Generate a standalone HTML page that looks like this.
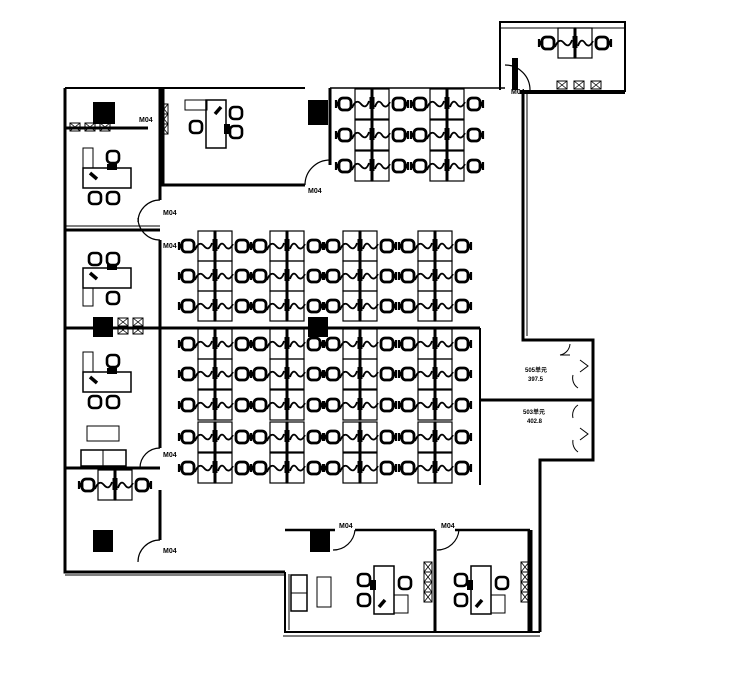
<!DOCTYPE html>
<html><head><style>
html,body{margin:0;padding:0;background:#fff;width:742px;height:691px;overflow:hidden}
text{font-family:"Liberation Sans","Noto Sans CJK SC",sans-serif;font-weight:bold;fill:#000}
</style></head><body>
<svg width="742" height="691" viewBox="0 0 742 691" xmlns="http://www.w3.org/2000/svg">
<defs>
<g id="ch">
<rect x="-6" y="-6" width="12" height="12" rx="4" fill="none" stroke="#000" stroke-width="2.8"/>
<line x1="-9" y1="-4" x2="-9" y2="4" stroke="#000" stroke-width="2.2"/>
</g>
<g id="row">
<rect x="-17" y="-15" width="17" height="30" fill="none" stroke="#000" stroke-width="1.2"/>
<rect x="0" y="-15" width="17" height="30" fill="none" stroke="#000" stroke-width="1.2"/>
<rect x="-2.5" y="-7" width="5" height="12" fill="#000"/>
<line x1="0" y1="-15" x2="0" y2="15" stroke="#000" stroke-width="3"/>
<path d="M-20 4 Q-16 -6 -11 0 Q-6 6 -3 -3" fill="none" stroke="#000" stroke-width="1.8"/>
<path d="M3 3 Q6 -6 10 0 Q14 6 18 -2" fill="none" stroke="#000" stroke-width="1.8"/>
<use href="#ch" x="-27"/>
<g transform="translate(27,0) scale(-1,1)"><use href="#ch"/></g>
<path d="M-37 0 l3 -3 v6z M37 0 l-3 -3 v6z" fill="#000"/>
</g>
<g id="xx">
<rect x="0" y="0" width="10" height="8" fill="none" stroke="#000"/>
<path d="M0 0 L10 8 M10 0 L0 8" stroke="#000" stroke-width="0.8"/>
</g>
<g id="arm"><rect x="-6" y="-6" width="12" height="12" rx="4" fill="none" stroke="#000" stroke-width="2.6"/></g>
<g id="desk">
<rect x="0" y="0" width="48" height="20" fill="none" stroke="#000" stroke-width="1.5"/>
<path d="M7 5 l7 6" stroke="#000" stroke-width="3.5"/>
<rect x="24" y="-4" width="10" height="6" fill="#000"/>
</g>
</defs>

<g stroke="#000" fill="none">
<path d="M65 88 V572 H285" stroke-width="3"/>
<path d="M65 88 H305" stroke-width="2"/>
<path d="M330 88 H505" stroke-width="1.5"/>
<path d="M500 90 V22 H625 V92" stroke-width="2"/>
<path d="M500 28 H625" stroke-width="1"/>
<path d="M520 92 H625" stroke-width="4"/>
<path d="M523 93 V340 H593 V460 H540 V632" stroke-width="3"/>
<path d="M527 93 V336" stroke-width="1"/>
<path d="M285 572 V632 H540" stroke-width="2"/>
<path d="M289 574 V630" stroke-width="1"/>
<path d="M283 636 H540" stroke-width="1"/>
<path d="M65 575 H285" stroke-width="1"/>
<path d="M160 88 V200 M160 240 V448 M160 490 V540" stroke-width="3"/>
<path d="M65 230 H160" stroke-width="3"/>
<path d="M65 226 H160" stroke-width="1"/>
<path d="M65 328 H480" stroke-width="3"/>
<path d="M65 468 H160" stroke-width="3"/>
<path d="M163 88 V185 H305" stroke-width="3"/>
<path d="M330 88 V165" stroke-width="3"/>
<path d="M480 328 V485" stroke-width="2"/>
<path d="M480 400 H593" stroke-width="3"/>
<path d="M285 530 H335 M355 530 H435 M455 530 H530" stroke-width="2.5"/>
<path d="M435 530 V632" stroke-width="3"/>
<path d="M530 530 V632" stroke-width="5"/>
<path d="M65 128 H148" stroke-width="3"/>
<path d="M330 160 A25 25 0 0 0 305 185" stroke-width="1.2"/>
<path d="M160 200 A22 22 0 0 0 138 222" stroke-width="1.2"/>
<path d="M160 240 A22 22 0 0 1 138 218" stroke-width="1.2"/>
<path d="M160 448 A20 20 0 0 0 140 468" stroke-width="1.2"/>
<path d="M160 540 A22 22 0 0 0 138 562" stroke-width="1.2"/>
<path d="M333 550 A22 22 0 0 0 355 530" stroke-width="1.2"/>
<path d="M437 550 A22 22 0 0 0 459 530" stroke-width="1.2"/>
<path d="M505 65 A25 25 0 0 1 530 90" stroke-width="1.2"/>
<path d="M560 355 h10 M570 344 A12 12 0 0 1 560 355" stroke-width="1"/>
<path d="M573 375 A12 12 0 0 0 578 388 M573 418 A12 12 0 0 1 578 405 M573 440 A12 12 0 0 0 578 452" stroke-width="1"/>
<path d="M580 360 l8 6 l-8 6 M580 428 l8 6 l-8 6" stroke-width="1"/>
</g>

<g fill="#000">
<rect x="93" y="102" width="22" height="22"/>
<rect x="308" y="100" width="20" height="25"/>
<rect x="93" y="317" width="20" height="20"/>
<rect x="308" y="317" width="20" height="20"/>
<rect x="93" y="530" width="20" height="22"/>
<rect x="310" y="530" width="20" height="22"/>
<rect x="512" y="58" width="6" height="32"/>
</g>

<use href="#xx" x="70" y="123"/><use href="#xx" x="85" y="123"/><use href="#xx" x="100" y="123"/>
<use href="#xx" x="118" y="318"/><use href="#xx" x="133" y="318"/><use href="#xx" x="118" y="326"/><use href="#xx" x="133" y="326"/>
<use href="#xx" x="557" y="81"/><use href="#xx" x="574" y="81"/><use href="#xx" x="591" y="81"/>
<g transform="translate(168,104) rotate(90)"><use href="#xx" x="0" y="0"/><use href="#xx" x="10" y="0"/><use href="#xx" x="20" y="0"/></g>
<g transform="translate(432,562) rotate(90)"><use href="#xx" x="0"/><use href="#xx" x="10"/><use href="#xx" x="20"/><use href="#xx" x="30"/></g>
<g transform="translate(529,562) rotate(90)"><use href="#xx" x="0"/><use href="#xx" x="10"/><use href="#xx" x="20"/><use href="#xx" x="30"/></g>

<g>
<use href="#desk" x="83" y="168"/><rect x="83" y="148" width="10" height="20" fill="none" stroke="#000"/>
<use href="#arm" x="113" y="157"/><use href="#arm" x="95" y="198"/><use href="#arm" x="113" y="198"/>
<use href="#desk" x="83" y="268"/><rect x="83" y="288" width="10" height="18" fill="none" stroke="#000"/>
<use href="#arm" x="113" y="298"/><use href="#arm" x="95" y="259"/><use href="#arm" x="113" y="259"/>
<use href="#desk" x="83" y="372"/><rect x="83" y="352" width="10" height="20" fill="none" stroke="#000"/>
<use href="#arm" x="113" y="361"/><use href="#arm" x="95" y="402"/><use href="#arm" x="113" y="402"/>
<rect x="87" y="426" width="32" height="15" fill="none" stroke="#000"/>
<rect x="81" y="450" width="45" height="16" fill="none" stroke="#000" stroke-width="1.5"/>
<line x1="103" y1="450" x2="103" y2="466" stroke="#000"/>
<g transform="translate(226,100) rotate(90)"><use href="#desk"/></g>
<rect x="185" y="100" width="22" height="10" fill="none" stroke="#000"/>
<use href="#arm" x="196" y="127"/><use href="#arm" x="236" y="113"/><use href="#arm" x="236" y="132"/>
<g transform="translate(374,614) rotate(-90)"><use href="#desk"/></g>
<rect x="394" y="595" width="14" height="18" fill="none" stroke="#000"/>
<use href="#arm" x="364" y="580"/><use href="#arm" x="364" y="600"/><use href="#arm" x="405" y="583"/>
<g transform="translate(471,614) rotate(-90)"><use href="#desk"/></g>
<rect x="491" y="595" width="14" height="18" fill="none" stroke="#000"/>
<use href="#arm" x="461" y="580"/><use href="#arm" x="461" y="600"/><use href="#arm" x="502" y="583"/>
<rect x="317" y="577" width="14" height="30" fill="none" stroke="#000"/>
<rect x="291" y="575" width="16" height="36" fill="none" stroke="#000" stroke-width="1.5"/>
<line x1="291" y1="593" x2="307" y2="593" stroke="#000"/>
</g>

<g>
<use href="#row" x="215" y="246"/><use href="#row" x="287" y="246"/><use href="#row" x="360" y="246"/><use href="#row" x="435" y="246"/>
<use href="#row" x="215" y="276"/><use href="#row" x="287" y="276"/><use href="#row" x="360" y="276"/><use href="#row" x="435" y="276"/>
<use href="#row" x="215" y="306"/><use href="#row" x="287" y="306"/><use href="#row" x="360" y="306"/><use href="#row" x="435" y="306"/>
<use href="#row" x="215" y="344"/><use href="#row" x="287" y="344"/><use href="#row" x="360" y="344"/><use href="#row" x="435" y="344"/>
<use href="#row" x="215" y="374"/><use href="#row" x="287" y="374"/><use href="#row" x="360" y="374"/><use href="#row" x="435" y="374"/>
<use href="#row" x="215" y="405"/><use href="#row" x="287" y="405"/><use href="#row" x="360" y="405"/><use href="#row" x="435" y="405"/>
<use href="#row" x="215" y="437"/><use href="#row" x="287" y="437"/><use href="#row" x="360" y="437"/><use href="#row" x="435" y="437"/>
<use href="#row" x="215" y="468"/><use href="#row" x="287" y="468"/><use href="#row" x="360" y="468"/><use href="#row" x="435" y="468"/>
<use href="#row" x="372" y="104"/><use href="#row" x="447" y="104"/>
<use href="#row" x="372" y="135"/><use href="#row" x="447" y="135"/>
<use href="#row" x="372" y="166"/><use href="#row" x="447" y="166"/>
<use href="#row" x="115" y="485"/>
<use href="#row" x="575" y="43"/>
</g>

<g font-size="7">
<text x="139" y="122">M04</text>
<text x="308" y="193">M04</text>
<text x="163" y="215">M04</text>
<text x="163" y="248">M04</text>
<text x="163" y="457">M04</text>
<text x="163" y="553">M04</text>
<text x="339" y="528">M04</text>
<text x="441" y="528">M04</text>
<text x="511" y="94">M04</text>
<text x="525" y="372" font-size="6">505单元</text>
<text x="528" y="381" font-size="6">397.5</text>
<text x="523" y="414" font-size="6">503单元</text>
<text x="527" y="423" font-size="6">402.8</text>
</g>
</svg>
</body></html>
